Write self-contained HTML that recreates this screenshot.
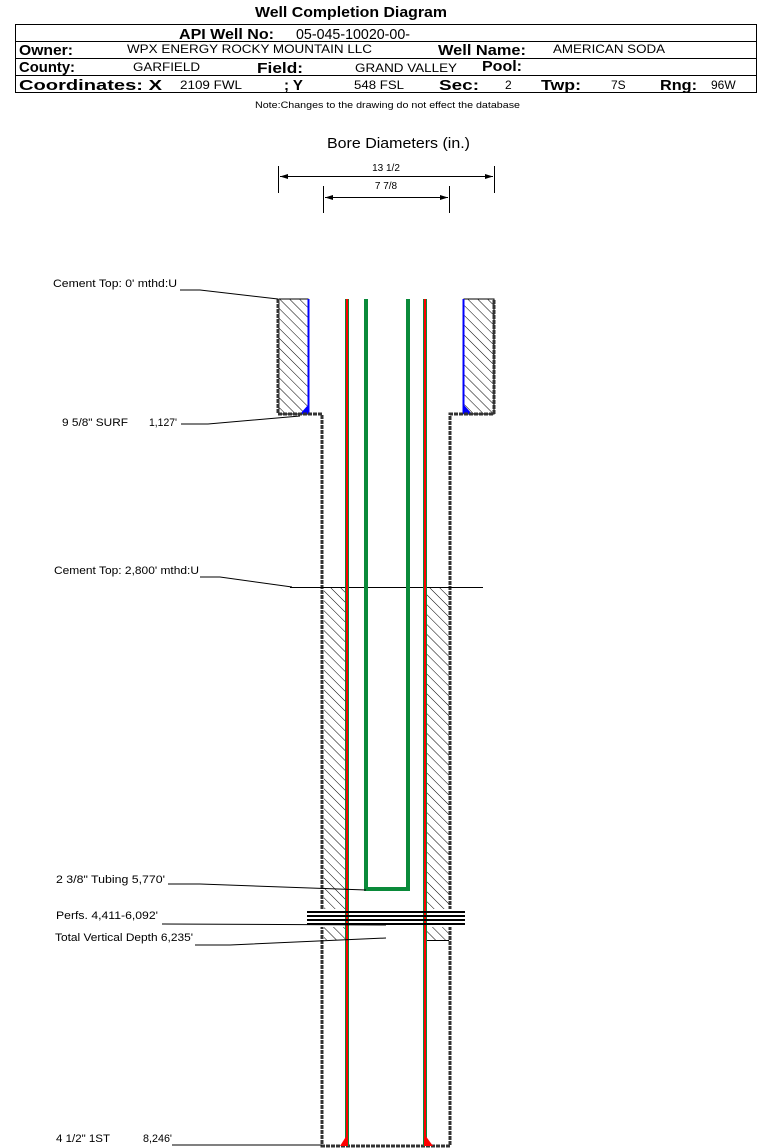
<!DOCTYPE html>
<html><head><style>
body{margin:0;background:#fff}
svg{display:block}
text{font-family:"Liberation Sans",Arial,sans-serif}
</style></head><body>
<svg width="759" height="1148" viewBox="0 0 759 1148" xmlns="http://www.w3.org/2000/svg">
<defs>
<pattern id="h" width="7" height="7" patternUnits="userSpaceOnUse" patternTransform="rotate(-45)">
<line x1="0" y1="0" x2="0" y2="7" stroke="#000" stroke-width="1"/>
</pattern>
</defs>
<text x="255" y="17" font-size="15" font-weight="bold" textLength="192" lengthAdjust="spacingAndGlyphs">Well Completion Diagram</text>
<rect x="15.5" y="24.5" width="741" height="68" fill="none" stroke="#000"/>
<line x1="15" y1="41.5" x2="757" y2="41.5" stroke="#000"/>
<line x1="15" y1="58.5" x2="757" y2="58.5" stroke="#000"/>
<line x1="15" y1="75.5" x2="757" y2="75.5" stroke="#000"/>
<text x="179" y="39" font-size="15" font-weight="bold" textLength="95" lengthAdjust="spacingAndGlyphs">API Well No:</text>
<text x="296" y="39" font-size="15" textLength="114" lengthAdjust="spacingAndGlyphs">05-045-10020-00-</text>
<g font-size="15" font-weight="bold">
<text x="19" y="55" textLength="54" lengthAdjust="spacingAndGlyphs">Owner:</text><text x="438" y="55" textLength="88" lengthAdjust="spacingAndGlyphs">Well Name:</text>
<text x="19" y="72" textLength="56" lengthAdjust="spacingAndGlyphs">County:</text><text x="257" y="73" textLength="46" lengthAdjust="spacingAndGlyphs">Field:</text><text x="482" y="71" textLength="40" lengthAdjust="spacingAndGlyphs">Pool:</text>
<text x="19" y="90" textLength="143" lengthAdjust="spacingAndGlyphs">Coordinates: X</text><text x="284" y="90">; Y</text><text x="439" y="90" textLength="40" lengthAdjust="spacingAndGlyphs">Sec:</text><text x="541" y="90" textLength="40" lengthAdjust="spacingAndGlyphs">Twp:</text><text x="660" y="90" textLength="37" lengthAdjust="spacingAndGlyphs">Rng:</text>
</g>
<g font-size="12">
<text x="127" y="53" textLength="245" lengthAdjust="spacingAndGlyphs">WPX ENERGY ROCKY MOUNTAIN LLC</text><text x="553" y="53" textLength="112" lengthAdjust="spacingAndGlyphs">AMERICAN SODA</text>
<text x="133" y="71" textLength="67" lengthAdjust="spacingAndGlyphs">GARFIELD</text><text x="355" y="72" textLength="102" lengthAdjust="spacingAndGlyphs">GRAND VALLEY</text>
<text x="180" y="89" textLength="62" lengthAdjust="spacingAndGlyphs">2109 FWL</text><text x="354" y="89" textLength="50" lengthAdjust="spacingAndGlyphs">548 FSL</text><text x="505" y="89">2</text><text x="611" y="89">7S</text><text x="711" y="89">96W</text>
</g>
<text x="255" y="108" font-size="9" textLength="265" lengthAdjust="spacingAndGlyphs">Note:Changes to the drawing do not effect the database</text>
<text x="327" y="148" font-size="15" textLength="143" lengthAdjust="spacingAndGlyphs">Bore Diameters (in.)</text>
<g stroke="#000" fill="none">
<line x1="278.5" y1="166" x2="278.5" y2="193"/><line x1="494.5" y1="166" x2="494.5" y2="193"/>
<line x1="280" y1="176.5" x2="493" y2="176.5"/>
<line x1="323.5" y1="186" x2="323.5" y2="213"/><line x1="449.5" y1="186" x2="449.5" y2="213"/>
<line x1="325" y1="197.5" x2="448" y2="197.5"/>
</g>
<polygon points="280,176.5 288,174 288,179" /><polygon points="493,176.5 485,174 485,179"/>
<polygon points="325,197.5 333,195 333,200" /><polygon points="448,197.5 440,195 440,200"/>
<text x="386" y="171" font-size="10" text-anchor="middle">13 1/2</text>
<text x="386" y="189" font-size="10" text-anchor="middle">7 7/8</text>
<rect x="279" y="299" width="29" height="115" fill="url(#h)" stroke="#000"/>
<rect x="464" y="299" width="30" height="115" fill="url(#h)" stroke="#000"/>
<line x1="308.5" y1="299" x2="308.5" y2="414" stroke="#00f" stroke-width="2"/>
<line x1="463.5" y1="299" x2="463.5" y2="414" stroke="#00f" stroke-width="2"/>
<polygon points="300,414 308,405 308,414" fill="#00f"/><polygon points="472,414 464,405 464,414" fill="#00f"/>
<g stroke="#333" stroke-width="3" fill="none" stroke-dasharray="4,1">
<polyline points="278,299 278,414 322,414 322,1146 450,1146 450,414 494,414 494,299"/>
</g>
<rect x="324" y="587" width="22" height="353" fill="url(#h)"/>
<rect x="427" y="587" width="22" height="353" fill="url(#h)"/>
<line x1="290" y1="587.5" x2="483" y2="587.5" stroke="#000"/>
<line x1="427" y1="940.5" x2="449" y2="940.5" stroke="#000"/>
<rect x="308" y="909" width="158" height="18" fill="#fff"/>
<g stroke-width="4">
<line x1="347" y1="299" x2="347" y2="1146" stroke="#0a8a3a"/>
<line x1="425" y1="299" x2="425" y2="1146" stroke="#0a8a3a"/>
</g>
<line x1="347" y1="299" x2="347" y2="1146" stroke="#f00" stroke-width="2"/>
<line x1="425" y1="299" x2="425" y2="1146" stroke="#f00" stroke-width="2"/>
<polygon points="340,1146 347,1135 347,1146" fill="#f00"/><polygon points="433,1146 425,1135 425,1146" fill="#f00"/>
<polyline points="366,299 366,889 408,889 408,299" fill="none" stroke="#0a8a3a" stroke-width="4"/>
<g stroke="#000" stroke-width="2">
<line x1="307" y1="912" x2="465" y2="912"/><line x1="307" y1="916" x2="465" y2="916"/>
<line x1="307" y1="920" x2="465" y2="920"/><line x1="307" y1="924" x2="465" y2="924"/>
</g>
<g stroke="#000" fill="none">
<polyline points="180,290 200,290 278,299"/>
<polyline points="181,424 208,424 300,416"/>
<polyline points="200,577 220,577 292,587"/>
<polyline points="168,884 200,884 366,890"/>
<polyline points="162,924 386,925"/>
<polyline points="195,945 230,945 386,938"/>
<polyline points="172,1145 322,1145"/>
</g>
<g font-size="11">
<text x="53" y="287" textLength="124" lengthAdjust="spacingAndGlyphs">Cement Top: 0' mthd:U</text>
<text x="62" y="426" textLength="66" lengthAdjust="spacingAndGlyphs">9 5/8" SURF</text><text x="149" y="426" textLength="28" lengthAdjust="spacingAndGlyphs">1,127'</text>
<text x="54" y="574" textLength="145" lengthAdjust="spacingAndGlyphs">Cement Top: 2,800' mthd:U</text>
<text x="56" y="883" textLength="109" lengthAdjust="spacingAndGlyphs">2 3/8" Tubing 5,770'</text>
<text x="56" y="919" textLength="102" lengthAdjust="spacingAndGlyphs">Perfs. 4,411-6,092'</text>
<text x="55" y="941" textLength="138" lengthAdjust="spacingAndGlyphs">Total Vertical Depth 6,235'</text>
<text x="56" y="1142" textLength="54" lengthAdjust="spacingAndGlyphs">4 1/2" 1ST</text><text x="143" y="1142" textLength="29" lengthAdjust="spacingAndGlyphs">8,246'</text>
</g>
</svg>
</body></html>
